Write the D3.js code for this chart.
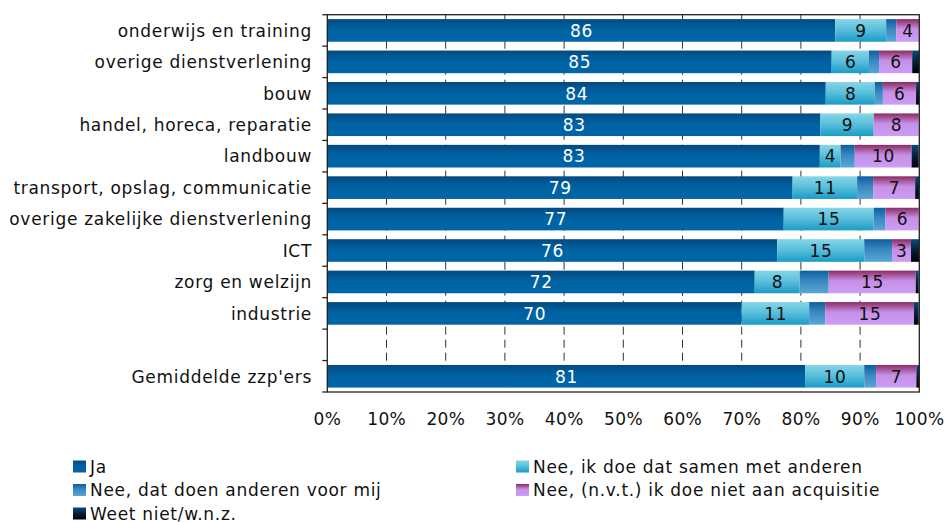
<!DOCTYPE html>
<html><head><meta charset="utf-8">
<script src="https://cdn.jsdelivr.net/npm/d3@7"></script>
<style>body{margin:0;background:#fff}svg{display:block}text{font-family:"DejaVu Sans",Verdana,sans-serif}</style>
</head><body><svg id="c" width="945" height="522"></svg>
<script>
const categories = ["onderwijs en training","overige dienstverlening","bouw","handel, horeca, reparatie","landbouw","transport, opslag, communicatie","overige zakelijke dienstverlening","ICT","zorg en welzijn","industrie","","Gemiddelde zzp'ers"];
const seriesNames = ["Ja","Nee, ik doe dat samen met anderen","Nee, dat doen anderen voor mij","Nee, (n.v.t.) ik doe niet aan acquisitie","Weet niet/w.n.z."];
const ja      = [85.8,85.2,84.2,83.3,83.2,78.6,77.1,76.0,72.2,70.0,null,80.7];
const samen   = [8.6,6.3,8.3,9.0,3.5,10.9,15.2,14.7,7.6,11.4,null,10.0];
const anderen = [1.7,1.7,1.35,0,2.4,2.7,2.0,4.7,4.9,2.7,null,2.0];
const nvt     = [3.9,5.6,5.6,7.6,9.6,7.1,5.6,3.2,14.7,15.0,null,6.8];
const weetniet= [0,1.2,0.55,0,1.2,0.7,0,1.4,0.5,0.8,null,0.5];
const xTicks = [0,10,20,30,40,50,60,70,80,90,100];

const series = [ja,samen,anderen,nvt,weetniet];
const grads = [
  ["#034a80","#0062a2","#0066a8"],
  ["#86d6e6","#5cc0dc","#1a9cc6"],
  ["#0c5e9e","#3a88c0","#5aa6d8"],
  ["#8c2a62","#c690e6","#cc9cf6"],
  ["#0a4a7e","#06223e","#000000"]
];
const labelColors = ["#fff","#111",null,"#111",null];

const svg = d3.select("#c");
const defs = svg.append("defs");
grads.forEach((g,i)=>{
  const lg = defs.append("linearGradient").attr("id","g"+i).attr("x1",0).attr("y1",0).attr("x2",0).attr("y2",1);
  lg.append("stop").attr("offset","0%").attr("stop-color",g[0]);
  lg.append("stop").attr("offset","45%").attr("stop-color",g[1]);
  lg.append("stop").attr("offset","100%").attr("stop-color",g[2]);
});

const L=327.3, R=919.3, T=14.7, B=392;
const x = d3.scaleLinear().domain([0,100]).range([L,R]);
const y = d3.scaleBand().domain(d3.range(categories.length)).range([T,B]).paddingInner(0.28).paddingOuter(0.14);

// gridlines
svg.append("g").selectAll("line").data(xTicks.slice(1,-1)).join("line")
  .attr("x1",d=>x(d)).attr("x2",d=>x(d)).attr("y1",T).attr("y2",B)
  .attr("stroke","#333").attr("stroke-width",1).attr("stroke-dasharray","8,5");

// bars
const rows = categories.map((c,i)=>({i, vals: series.map(s=>s[i])})).filter(r=>r.vals[0]!=null);
const gBars = svg.append("g");
rows.forEach(r=>{
  let acc=0;
  r.vals.forEach((v,k)=>{
    const x0=acc; acc+=v;
    if(v<=0) return;
    gBars.append("rect").attr("x",x(x0)).attr("width",x(acc)-x(x0))
      .attr("y",y(r.i)).attr("height",y.bandwidth()).attr("fill","url(#g"+k+")");
    if(labelColors[k] && v>=2.5){
      gBars.append("text").attr("x",(x(x0)+x(acc))/2+0.35).attr("y",y(r.i)+y.bandwidth()/2)
        .attr("dy","0.37em").attr("text-anchor","middle").attr("font-size",17)
        .attr("letter-spacing","0.7px")
        .attr("fill",labelColors[k]).text(d3.format(".0f")(v));
    }
  });
});

// frame
svg.append("rect").attr("x",L).attr("y",T).attr("width",R-L).attr("height",B-T)
  .attr("fill","none").attr("stroke","#222").attr("stroke-width",1.3);

// y axis ticks at band boundaries
const bounds = d3.range(categories.length+1).map(k=>T + k*(B-T)/categories.length);
svg.append("g").selectAll("line").data(bounds).join("line")
  .attr("x1",L-5).attr("x2",L).attr("y1",d=>d).attr("y2",d=>d)
  .attr("stroke","#222").attr("stroke-width",1.3);

// category labels
svg.append("g").selectAll("text").data(categories).join("text")
  .attr("x",312).attr("y",(d,i)=>y(i)+y.bandwidth()/2).attr("dy","0.37em")
  .attr("text-anchor","end").attr("font-size",17).attr("letter-spacing","0.7px")
  .attr("fill","#111").text(d=>d);

// x tick labels
svg.append("g").selectAll("text").data(xTicks).join("text")
  .attr("x",d=>x(d)+0.2).attr("y",419).attr("dy","0.37em")
  .attr("text-anchor","middle").attr("font-size",17).attr("letter-spacing","0.4px")
  .attr("fill","#111").text(d=>d+"%");

// legend
const legPos = [[73,466.5],[516,466.5],[73,490],[516,490],[73,513.5]];
seriesNames.forEach((name,k)=>{
  const [lx,ly]=legPos[k];
  svg.append("rect").attr("x",lx).attr("y",ly-6).attr("width",13).attr("height",12).attr("fill","url(#g"+k+")");
  svg.append("text").attr("x",lx+17).attr("y",ly).attr("dy","0.37em").attr("font-size",17)
    .attr("letter-spacing","0.7px").attr("fill","#111").text(name);
});
</script></body></html>
